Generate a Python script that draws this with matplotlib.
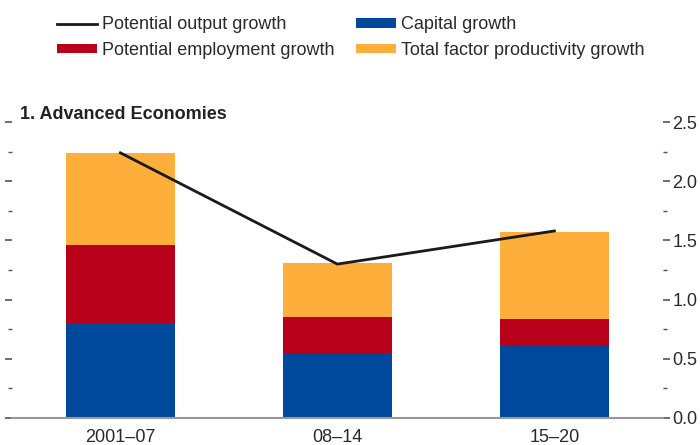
import matplotlib
matplotlib.use("Agg")
from matplotlib import pyplot as plt
from matplotlib.ticker import MultipleLocator

plt.rcParams['font.family'] = ['Liberation Sans Narrow', 'Liberation Sans', 'DejaVu Sans']

# data
periods = ["2001\u201307", "08\u201314", "15\u201320"]
capital = [0.79, 0.54, 0.61]
employment = [0.67, 0.31, 0.23]
tfp = [0.78, 0.46, 0.73]
potential_output = [2.24, 1.30, 1.58]

blue = "#00489c"
red = "#b8001b"
orange = "#fdae3b"
grey = "#2a2a2a"

fig = plt.figure(figsize=(7, 4.45), dpi=100)
ax = fig.add_axes([0.017, 0.0607, 0.93, 0.665])

x = range(len(periods))
bottom2 = [c + e for c, e in zip(capital, employment)]
ax.bar(x, capital, width=0.5, color=blue, label="Capital growth", zorder=2)
ax.bar(x, employment, width=0.5, bottom=capital, color=red,
       label="Potential employment growth", zorder=2)
ax.bar(x, tfp, width=0.5, bottom=bottom2, color=orange,
       label="Total factor productivity growth", zorder=2)
ax.plot(x, potential_output, color="#1a1a1a", lw=2, label="Potential output growth", zorder=3)

ax.set_xlim(-0.5, 2.5)
ax.set_ylim(0, 2.5)
ax.set_xticks(list(x))
ax.set_xticklabels(periods, fontsize=13, color=grey)
ax.tick_params(axis="x", length=0, pad=8)

for s in ["top", "left", "right"]:
    ax.spines[s].set_visible(False)
ax.spines["bottom"].set_color("#999999")
ax.spines["bottom"].set_linewidth(1.5)

ax.yaxis.set_major_locator(MultipleLocator(0.5))
ax.yaxis.set_minor_locator(MultipleLocator(0.25))
ax.yaxis.set_major_formatter(lambda v, p: f"{v:.1f}")
ax.tick_params(axis="y", which="both", left=True, right=True,
               labelleft=False, labelright=True, direction="out",
               color="#555555", labelsize=13, labelcolor=grey, pad=2)
ax.tick_params(axis="y", which="major", length=5, width=1.2)
ax.tick_params(axis="y", which="minor", length=3, width=1)

fig.text(0.028, 0.742, "1. Advanced Economies", fontsize=13, fontweight="bold",
         color="#222222", va="center", ha="left")

handles, labels = ax.get_legend_handles_labels()
handles = [handles[0], handles[2], handles[1], handles[3]]
labels = [labels[0], labels[2], labels[1], labels[3]]
fig.legend(handles, labels, ncol=2, loc="upper left", bbox_to_anchor=(0.058, 1.0),
           frameon=False, fontsize=13, handlelength=2.2, handleheight=0.45,
           handletextpad=0.3, columnspacing=1.2, labelspacing=0.48,
           labelcolor=grey)

fig.savefig("out.png", dpi=100)
